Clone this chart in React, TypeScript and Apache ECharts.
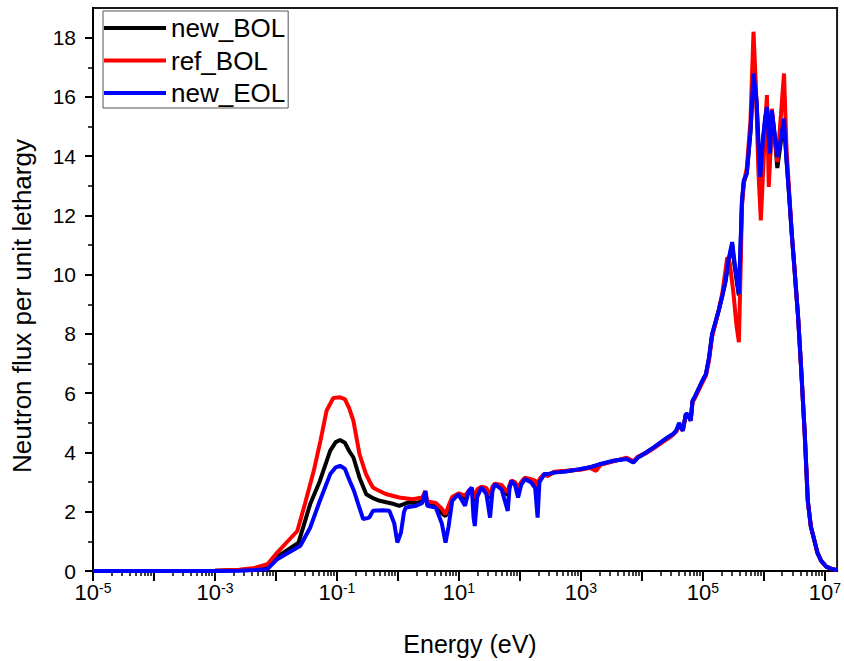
import React, { useEffect, useRef } from "react";
import * as echarts from "echarts";

// x values are log10(Energy / eV), y values are neutron flux per unit lethargy
const seriesNames = ["new_BOL", "ref_BOL", "new_EOL"];
const seriesColors = ["#000000", "#ff0000", "#0000ff"];

const newBolPoints: [number, number][] = [
  [-5, 0], [-4, 0], [-3, 0.01], [-2.6, 0.03], [-2.35, 0.06], [-2.14, 0.13], [-1.92, 0.56], [-1.63, 0.96],
  [-1.44, 2.25], [-1.28, 3.04], [-1.11, 4.06], [-1.02, 4.35], [-0.95, 4.42], [-0.87, 4.33], [-0.8, 4.05],
  [-0.73, 3.83], [-0.63, 3.15], [-0.52, 2.59], [-0.4, 2.45], [-0.3, 2.37], [-0.1, 2.28], [0.02, 2.2], [0.16, 2.31],
  [0.3, 2.3], [0.4, 2.35], [0.45, 2.65], [0.48, 2.25], [0.62, 2.2], [0.72, 1.95], [0.78, 1.85], [0.83, 2.1],
  [0.89, 2.45], [0.99, 2.58], [1.1, 2.45], [1.16, 2.65], [1.21, 2.78], [1.26, 2.35], [1.3, 2.7], [1.37, 2.82],
  [1.45, 2.75], [1.51, 2.45], [1.55, 2.8], [1.59, 2.92], [1.7, 2.85], [1.8, 2.55], [1.83, 2.85], [1.86, 3.02],
  [1.92, 2.95], [1.97, 2.7], [2.02, 2.95], [2.08, 3.12], [2.18, 3.05], [2.25, 3.0], [2.29, 2.7], [2.32, 3.05],
  [2.4, 3.27], [2.45, 3.22], [2.56, 3.33], [2.75, 3.37], [2.99, 3.43], [3.15, 3.5], [3.32, 3.6], [3.53, 3.71],
  [3.75, 3.8], [3.86, 3.68], [3.93, 3.83], [4.07, 4.0], [4.2, 4.17], [4.34, 4.38], [4.45, 4.53], [4.51, 4.61],
  [4.56, 4.72], [4.61, 4.95], [4.67, 4.74], [4.72, 5.28], [4.75, 5.28], [4.8, 5.08], [4.83, 5.73], [4.86, 5.83],
  [4.99, 6.4], [5.05, 6.63], [5.1, 7.18], [5.15, 7.95], [5.26, 8.8], [5.32, 9.3], [5.37, 9.75], [5.42, 10.45],
  [5.48, 11.0], [5.52, 10.3], [5.56, 9.7], [5.59, 9.3], [5.62, 11.1], [5.64, 12.4], [5.67, 13.1], [5.72, 13.45],
  [5.78, 14.8], [5.83, 16.7], [5.88, 15.8], [5.91, 14.4], [5.94, 13.25], [5.99, 14.6], [6.02, 15.2], [6.05, 15.6],
  [6.08, 14.5], [6.1, 14.0], [6.13, 15.5], [6.18, 14.6], [6.22, 13.6], [6.28, 14.5], [6.33, 15.2], [6.37, 13.9],
  [6.42, 12.5], [6.46, 11.3], [6.5, 10.25], [6.56, 8.6], [6.61, 6.87], [6.67, 4.62], [6.72, 2.37], [6.77, 1.5],
  [6.83, 1.01], [6.88, 0.6], [6.94, 0.34], [7.02, 0.15], [7.1, 0.08], [7.2, 0.03],
];

const refBolPoints: [number, number][] = [
  [-5, 0], [-4, 0], [-3, 0.01], [-2.6, 0.04], [-2.35, 0.1], [-2.14, 0.23], [-1.98, 0.62], [-1.65, 1.35],
  [-1.52, 2.3], [-1.38, 3.38], [-1.27, 4.4], [-1.17, 5.41], [-1.06, 5.84], [-0.95, 5.86], [-0.87, 5.8],
  [-0.8, 5.5], [-0.73, 5.07], [-0.63, 3.94], [-0.53, 3.3], [-0.47, 3.04], [-0.41, 2.82], [-0.36, 2.76],
  [-0.2, 2.6], [-0.09, 2.54], [0.02, 2.48], [0.24, 2.42], [0.4, 2.48], [0.45, 2.7], [0.48, 2.35], [0.62, 2.3],
  [0.72, 2.1], [0.78, 1.92], [0.83, 2.2], [0.89, 2.5], [0.99, 2.62], [1.1, 2.55], [1.16, 2.7], [1.21, 2.8],
  [1.26, 2.45], [1.3, 2.75], [1.37, 2.85], [1.45, 2.8], [1.51, 2.55], [1.55, 2.85], [1.59, 2.95], [1.7, 2.9],
  [1.8, 2.65], [1.83, 2.9], [1.86, 3.05], [1.92, 3.0], [1.97, 2.8], [2.02, 3.0], [2.08, 3.15], [2.18, 3.1],
  [2.25, 3.05], [2.29, 2.85], [2.32, 3.1], [2.4, 3.28], [2.45, 3.2], [2.56, 3.35], [2.75, 3.38], [2.99, 3.42],
  [3.15, 3.48], [3.25, 3.38], [3.32, 3.58], [3.53, 3.7], [3.75, 3.82], [3.86, 3.7], [3.93, 3.85], [4.07, 3.98],
  [4.2, 4.15], [4.34, 4.35], [4.45, 4.5], [4.51, 4.6], [4.56, 4.7], [4.61, 4.9], [4.67, 4.75], [4.72, 5.25],
  [4.75, 5.25], [4.8, 5.1], [4.83, 5.7], [4.86, 5.8], [4.99, 6.35], [5.05, 6.6], [5.1, 7.1], [5.15, 7.9],
  [5.26, 8.8], [5.32, 9.4], [5.4, 10.59], [5.44, 10.4], [5.5, 9.4], [5.55, 8.3], [5.59, 7.72], [5.62, 10.3],
  [5.64, 12.3], [5.67, 13.1], [5.72, 13.6], [5.78, 15.2], [5.83, 18.2], [5.87, 16.3], [5.91, 13.5], [5.95, 11.83],
  [5.99, 13.6], [6.02, 15.0], [6.05, 16.06], [6.08, 12.96], [6.11, 14.2], [6.13, 15.6], [6.18, 14.6], [6.22, 13.8],
  [6.28, 15.4], [6.33, 16.79], [6.37, 14.3], [6.42, 12.6], [6.46, 11.3], [6.5, 10.25], [6.56, 8.6], [6.61, 6.87],
  [6.67, 4.62], [6.72, 2.37], [6.77, 1.5], [6.83, 1.01], [6.88, 0.6], [6.94, 0.34], [7.02, 0.15], [7.1, 0.08],
  [7.2, 0.03],
];

const newEolPoints: [number, number][] = [
  [-5, 0], [-4, 0], [-3, 0], [-2.6, 0.01], [-2.35, 0.03], [-2.14, 0.06], [-1.98, 0.4], [-1.6, 0.85],
  [-1.44, 1.46], [-1.28, 2.37], [-1.11, 3.27], [-1.02, 3.5], [-0.95, 3.55], [-0.87, 3.45], [-0.79, 3.04],
  [-0.72, 2.7], [-0.65, 2.25], [-0.57, 1.75], [-0.47, 1.8], [-0.41, 2.03], [-0.25, 2.05], [-0.14, 2.03],
  [-0.06, 1.6], [-0.01, 0.96], [0.05, 1.3], [0.1, 2.0], [0.13, 2.14], [0.3, 2.2], [0.4, 2.3], [0.45, 2.7],
  [0.48, 2.2], [0.62, 2.14], [0.72, 1.6], [0.78, 0.96], [0.83, 1.5], [0.89, 2.37], [0.99, 2.59], [1.1, 2.2],
  [1.16, 2.7], [1.21, 2.82], [1.24, 1.8], [1.26, 1.52], [1.3, 2.5], [1.37, 2.82], [1.45, 2.6], [1.51, 1.8],
  [1.55, 2.7], [1.59, 2.93], [1.7, 2.75], [1.8, 2.03], [1.83, 2.8], [1.86, 3.04], [1.92, 2.9], [1.97, 2.48],
  [2.02, 2.9], [2.08, 3.1], [2.18, 3.0], [2.25, 2.8], [2.29, 1.8], [2.32, 3.0], [2.4, 3.27], [2.45, 3.27],
  [2.56, 3.32], [2.75, 3.36], [2.99, 3.44], [3.15, 3.5], [3.32, 3.61], [3.53, 3.72], [3.75, 3.78], [3.86, 3.66],
  [3.93, 3.82], [4.07, 4.0], [4.2, 4.18], [4.34, 4.39], [4.45, 4.55], [4.51, 4.62], [4.56, 4.73], [4.61, 5.0],
  [4.67, 4.73], [4.72, 5.3], [4.75, 5.3], [4.8, 5.07], [4.83, 5.75], [4.86, 5.85], [4.99, 6.42], [5.05, 6.65],
  [5.1, 7.2], [5.15, 8.0], [5.26, 8.8], [5.32, 9.3], [5.37, 9.8], [5.42, 10.5], [5.48, 11.1], [5.52, 10.4],
  [5.56, 9.8], [5.59, 9.35], [5.62, 11.2], [5.64, 12.5], [5.67, 13.18], [5.72, 13.4], [5.78, 14.87], [5.83, 16.79],
  [5.88, 15.89], [5.91, 14.5], [5.94, 13.3], [5.99, 14.7], [6.02, 15.3], [6.05, 15.66], [6.08, 14.6], [6.1, 14.09],
  [6.13, 15.55], [6.18, 14.7], [6.22, 13.97], [6.28, 14.6], [6.33, 15.27], [6.37, 13.9], [6.42, 12.5], [6.46, 11.3],
  [6.5, 10.25], [6.56, 8.6], [6.61, 6.87], [6.67, 4.62], [6.72, 2.37], [6.77, 1.5], [6.83, 1.01], [6.88, 0.6],
  [6.94, 0.34], [7.02, 0.15], [7.1, 0.08], [7.2, 0.03],
];

// axis ticks (decade exponents and flux values)
const xMin = -5;
const xMax = 7.2;
const xMajorTicks = [-5, -4, -3, -2, -1, 0, 1, 2, 3, 4, 5, 6, 7];
const xLabelTicks = [-5, -3, -1, 1, 3, 5, 7];
const yMin = 0;
const yMax = 19;
const yMajorTicks = [0, 2, 4, 6, 8, 10, 12, 14, 16, 18];
const yMinorTicks = [1, 3, 5, 7, 9, 11, 13, 15, 17];
const xTitle = "Energy (eV)";
const yTitle = "Neutron flux per unit lethargy";

const FONT = '"Liberation Sans", Arial, Helvetica, sans-serif';

export default function App() {
  const ref = useRef<HTMLDivElement>(null);
  useEffect(() => {
    if (!ref.current) return;
    const chart = echarts.init(ref.current, null, { renderer: "svg" });

    const xMinorTicks: number[] = [];
    xMajorTicks.forEach((d) => {
      for (let k = 2; k <= 9; k++) {
        const v = d + Math.log10(k);
        if (v < xMax) xMinorTicks.push(v);
      }
    });

    const pointSets = [newBolPoints, refBolPoints, newEolPoints];

    chart.setOption({
      animation: false,
      grid: {
        left: 93,
        top: 8,
        right: -2,
        bottom: 90,
        show: true,
        borderColor: "#1a1a1a",
        borderWidth: 2,
        backgroundColor: "transparent",
      },
      legend: {
        data: seriesNames,
        orient: "vertical",
        left: 103,
        top: 11,
        padding: [4, 3, 2, 1],
        icon: "rect",
        itemWidth: 62,
        itemHeight: 4,
        itemGap: 6.5,
        borderColor: "#555",
        borderWidth: 1,
        backgroundColor: "#fff",
        selectedMode: false,
        textStyle: { fontSize: 26, fontFamily: FONT, color: "#000", lineHeight: 26 },
      },
      xAxis: [
        {
          type: "value",
          min: xMin,
          max: xMax,
          position: "bottom",
          axisLine: { show: true, onZero: false, lineStyle: { color: "#000", width: 2 } },
          axisTick: { show: true, customValues: xMajorTicks, length: 10, lineStyle: { color: "#000", width: 2 } },
          splitLine: { show: false },
          axisLabel: {
            customValues: xLabelTicks,
            margin: 10,
            fontFamily: FONT,
            color: "#000",
            formatter: (v: number) => `{b|10}{s|${Math.round(v)}}`,
            rich: {
              b: { fontSize: 22, fontFamily: FONT, color: "#000", lineHeight: 22, verticalAlign: "bottom", padding: [10, 0, 0, 0] },
              s: { fontSize: 14, fontFamily: FONT, color: "#000", lineHeight: 14, verticalAlign: "top" },
            },
          },
        },
        {
          type: "value",
          min: xMin,
          max: xMax,
          position: "bottom",
          axisLine: { show: false, onZero: false },
          axisTick: { show: true, customValues: xMinorTicks, length: 5, lineStyle: { color: "#000", width: 1.5 } },
          axisLabel: { show: false },
          splitLine: { show: false },
        },
      ],
      yAxis: [
        {
          type: "value",
          min: yMin,
          max: yMax,
          position: "left",
          axisLine: { show: true, onZero: false, lineStyle: { color: "#000", width: 2 } },
          axisTick: { show: true, customValues: yMajorTicks, length: 8, lineStyle: { color: "#000", width: 2 } },
          splitLine: { show: false },
          axisLabel: { customValues: yMajorTicks, margin: 17, fontSize: 21, fontFamily: FONT, color: "#000" },
        },
        {
          type: "value",
          min: yMin,
          max: yMax,
          position: "left",
          axisLine: { show: false, onZero: false },
          axisTick: { show: true, customValues: yMinorTicks, length: 5, lineStyle: { color: "#000", width: 1.5 } },
          axisLabel: { show: false },
          splitLine: { show: false },
        },
      ],
      graphic: [
        {
          type: "text",
          x: 470,
          y: 644,
          silent: true,
          style: {
            text: xTitle,
            fontSize: 25,
            fontFamily: FONT,
            fill: "#000",
            align: "center",
            verticalAlign: "middle",
          },
        },
        {
          type: "text",
          x: 22,
          y: 306,
          rotation: Math.PI / 2,
          silent: true,
          style: {
            text: yTitle,
            fontSize: 26,
            fontFamily: FONT,
            fill: "#000",
            align: "center",
            verticalAlign: "middle",
          },
        },
      ],
      series: seriesNames.map((name, i) => ({
        name,
        type: "line",
        xAxisIndex: 0,
        yAxisIndex: 0,
        data: pointSets[i],
        symbol: "none",
        showSymbol: false,
        color: seriesColors[i],
        itemStyle: { color: seriesColors[i] },
        lineStyle: { color: seriesColors[i], width: 4 },
        z: 2 + i,
      })),
    });
    return () => chart.dispose();
  }, []);

  return <div ref={ref} style={{ position: "absolute", left: 0, top: 0, width: 844, height: 661 }} />;
}
